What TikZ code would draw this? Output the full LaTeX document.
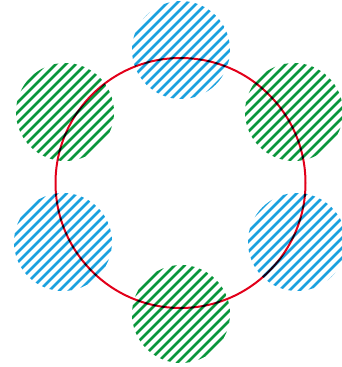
\documentclass[tikz,border=0pt]{standalone}
\definecolor{hblue}{HTML}{1BA1DE}
\definecolor{hgreen}{HTML}{0A963C}
\definecolor{ringred}{HTML}{E2001A}
\tikzset{
  hatchline/.style={line width=2.7pt},
  ring/.style={draw=ringred,line width=2pt}
}
\newcommand{\hatchdisc}[4]{% cx, cy, r, colour
  \begin{scope}
    \clip (#1,#2) circle (#3);
    \foreach \s in {0,10,...,720}{
      \draw[hatchline,#4] (\s+10,-10) -- (\s-380,380);
    }
  \end{scope}}
\begin{document}
\begin{tikzpicture}[x=1pt,y=-1pt]
\useasboundingbox (0,0) rectangle (341,367);
\hatchdisc{181}{50}{49}{hblue}
\hatchdisc{65}{112}{49}{hgreen}
\hatchdisc{294}{112}{49}{hgreen}
\hatchdisc{63}{242}{49}{hblue}
\hatchdisc{297}{242}{49}{hblue}
\hatchdisc{181}{314}{49}{hgreen}
\begin{scope}[blend mode=multiply]
\draw[ring] (180.5,183) circle (125);
\end{scope}
\end{tikzpicture}
\end{document}
